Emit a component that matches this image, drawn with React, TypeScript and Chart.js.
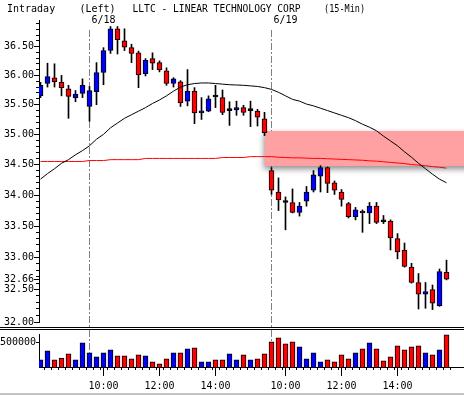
import React, { useEffect, useRef } from "react";
import { Chart, registerables } from "chart.js";
Chart.register(...registerables);

// 15-minute bars: 6/17 (last 7 bars), 6/18 (26 bars), 6/19 (26 bars)
const OPEN = [
  35.65, 35.86, 35.96, 35.88, 35.77, 35.62, 35.69,
  35.47, 35.72, 36.05, 36.43, 36.81, 36.60, 36.48, 36.39, 36.03, 36.29, 36.22, 36.08, 35.86,
  35.89, 35.56, 35.73, 35.36, 35.39, 35.635, 35.62, 35.40, 35.41, 35.45, 35.40, 35.39, 35.26,
  34.40, 34.05, 33.885, 33.88, 33.72, 33.90, 34.08, 34.31, 34.45, 34.20, 34.05, 33.86, 33.65,
  33.74, 33.71, 33.82, 33.575, 33.58, 33.30, 33.12, 32.85, 32.61, 32.43, 32.50, 32.25, 32.77,
];
const HIGH = [
  35.88, 36.21, 36.20, 36.00, 35.83, 35.74, 35.94,
  35.81, 36.22, 36.48, 36.85, 36.85, 36.81, 36.54, 36.42, 36.29, 36.39, 36.25, 36.13, 35.96,
  35.91, 36.10, 35.79, 35.62, 35.65, 35.83, 35.75, 35.55, 35.56, 35.49, 35.56, 35.42, 35.37,
  34.45, 34.28, 33.97, 34.10, 33.88, 34.14, 34.40, 34.48, 34.46, 34.23, 34.09, 33.88, 33.80,
  33.76, 33.88, 33.88, 33.67, 33.60, 33.38, 33.23, 32.91, 32.75, 32.61, 32.57, 32.82, 32.96,
];
const LOW = [
  35.62, 35.80, 35.80, 35.65, 35.27, 35.55, 35.62,
  35.22, 35.50, 35.84, 36.38, 36.37, 36.43, 36.22, 35.79, 35.99, 36.10, 36.06, 35.83, 35.80,
  35.47, 35.48, 35.18, 35.25, 35.38, 35.45, 35.33, 35.15, 35.32, 35.32, 35.13, 35.14, 34.98,
  34.01, 33.75, 33.44, 33.71, 33.66, 33.82, 34.05, 34.05, 34.04, 34.01, 33.82, 33.63, 33.60,
  33.40, 33.54, 33.54, 33.54, 33.12, 32.98, 32.85, 32.60, 32.20, 32.21, 32.19, 32.24, 32.65,
];
const CLOSE = [
  35.83, 35.98, 35.89, 35.79, 35.64, 35.68, 35.83,
  35.74, 36.05, 36.43, 36.81, 36.62, 36.49, 36.38, 36.01, 36.26, 36.21, 36.10, 35.86, 35.94,
  35.53, 35.73, 35.36, 35.39, 35.60, 35.63, 35.37, 35.405, 35.45, 35.37, 35.405, 35.29, 35.03,
  34.08, 33.92, 33.88, 33.72, 33.82, 34.05, 34.33, 34.45, 34.19, 34.08, 33.93, 33.65, 33.76,
  33.71, 33.82, 33.56, 33.57, 33.31, 33.09, 32.86, 32.61, 32.43, 32.47, 32.29, 32.78, 32.66,
];
const VOLUME = [
  148000, 331000, 148000, 183000, 270000, 148000, 494000,
  291000, 209000, 291000, 352000, 230000, 230000, 169000, 250000, 230000, 108000, 67000, 169000, 291000,
  291000, 372000, 392000, 108000, 108000, 148000, 148000, 270000, 148000, 250000, 148000, 169000, 270000,
  514000, 596000, 474000, 514000, 413000, 169000, 291000, 108000, 148000, 108000, 250000, 169000, 291000,
  372000, 494000, 372000, 128000, 209000, 433000, 352000, 413000, 433000, 291000, 250000, 352000, 657000,
];
const MA_SHORT = [
  34.26, 34.35, 34.43, 34.52, 34.58, 34.66, 34.73,
  34.81, 34.92, 35.00, 35.11, 35.19, 35.27, 35.33, 35.39, 35.45, 35.52, 35.58, 35.65, 35.73,
  35.80, 35.84, 35.86, 35.87, 35.87, 35.86, 35.85, 35.84, 35.835, 35.83, 35.82, 35.81, 35.79,
  35.76, 35.71, 35.65, 35.59, 35.56, 35.51, 35.48, 35.44, 35.40, 35.36, 35.32, 35.28, 35.23,
  35.17, 35.12, 35.06, 34.97, 34.89, 34.81, 34.71, 34.62, 34.52, 34.43, 34.34, 34.26, 34.20,
];
const MA_LONG = [
  34.55, 34.55, 34.55, 34.55, 34.55, 34.55, 34.55,
  34.565, 34.565, 34.565, 34.58, 34.58, 34.58, 34.58, 34.58, 34.60, 34.60, 34.60, 34.60, 34.60,
  34.60, 34.60, 34.60, 34.60, 34.60, 34.60, 34.615, 34.615, 34.615, 34.615, 34.63, 34.63, 34.63,
  34.63, 34.62, 34.615, 34.61, 34.61, 34.605, 34.60, 34.60, 34.595, 34.59, 34.585, 34.58, 34.575,
  34.57, 34.56, 34.555, 34.545, 34.535, 34.525, 34.515, 34.50, 34.49, 34.48, 34.465, 34.455, 34.44,
];
const PRICE_TICKS = [32.0, 32.5, 32.66, 33.0, 33.5, 34.0, 34.5, 35.0, 35.5, 36.0, 36.5];
const VOLUME_TICKS = [500000];
const TIME_TICK_INDEX = [9, 17, 25, 35, 43, 51];
const TIME_TICK_LABELS = ["10:00", "12:00", "14:00", "10:00", "12:00", "14:00"];
const DAY_START_INDEX = [7, 33];
const DAY_LABELS = ["6/18", "6/19"];
const GAP_BAND = { startIndex: 32.07, top: 35.05, bottom: 34.47 };
const TITLE_PARTS = ["Intraday", "(Left)", "LLTC - LINEAR TECHNOLOGY CORP", "(15-Min)"];

const UP = "#0000ff";
const DOWN = "#ff0000";
const FONT = '"DejaVu Sans Mono", monospace';
const X_MIN = -0.2143;
const X_MAX = 60.5;

export default function App() {
  const priceRef = useRef<HTMLCanvasElement>(null);
  const volRef = useRef<HTMLCanvasElement>(null);

  useEffect(() => {
    const idx = OPEN.map((_, i) => i);
    const bodyColor = idx.map((i) =>
      Math.abs(CLOSE[i] - OPEN[i]) < 0.0075 ? "#000000" : CLOSE[i] > OPEN[i] ? UP : DOWN
    );
    const volColor = idx.map((i) => (CLOSE[i] >= OPEN[i] ? UP : DOWN));

    const drawSeparators = (chart: any, yFrom: number, yTo: number) => {
      const ctx = chart.ctx;
      const xs = chart.scales.x;
      ctx.save();
      ctx.strokeStyle = "#808080";
      ctx.lineWidth = 1;
      ctx.setLineDash([7, 2, 2, 2]);
      DAY_START_INDEX.forEach((d) => {
        const x = Math.round(xs.getPixelForValue(d) - 0.5) + 0.5;
        ctx.beginPath();
        ctx.moveTo(x, yFrom);
        ctx.lineTo(x, yTo);
        ctx.stroke();
      });
      ctx.restore();
    };

    const pricePlugin = {
      id: "pricePlugin",
      beforeDatasetsDraw(chart: any) {
        const ctx = chart.ctx;
        const xs = chart.scales.x;
        const ys = chart.scales.y;
        drawSeparators(chart, 30, chart.height);
        const x0 = Math.round(xs.getPixelForValue(GAP_BAND.startIndex));
        const yT = Math.round(ys.getPixelForValue(GAP_BAND.top));
        const yB = Math.round(ys.getPixelForValue(GAP_BAND.bottom));
        ctx.save();
        ctx.shadowColor = "rgba(0,0,0,0.45)";
        ctx.shadowBlur = 6;
        ctx.shadowOffsetY = 3;
        ctx.shadowOffsetX = -1;
        ctx.fillStyle = "rgb(255,160,163)";
        ctx.fillRect(x0, yT, chart.width - x0 + 10, yB - yT);
        ctx.restore();
      },
      afterDraw(chart: any) {
        const ctx = chart.ctx;
        const xs = chart.scales.x;
        const ys = chart.scales.y;
        const ca = chart.chartArea;
        ctx.save();
        ctx.fillStyle = "#000";
        for (let k = 320; k <= 369; k++) {
          const v = k / 10;
          if (PRICE_TICKS.some((t) => Math.abs(t - v) < 1e-6)) continue;
          const y = Math.round(ys.getPixelForValue(v) - 0.5);
          if (y < ca.top || y > ca.bottom) continue;
          ctx.fillRect(ca.left - 3, y, 3, 1);
        }
        ctx.font = "10px " + FONT;
        ctx.textBaseline = "alphabetic";
        ctx.textAlign = "left";
        ctx.fillText(TITLE_PARTS[0], 7, 12);
        ctx.fillText(TITLE_PARTS[1], 79.5, 12);
        ctx.fillText(TITLE_PARTS[2], 132.5, 12, 168);
        ctx.fillText(TITLE_PARTS[3], 324, 12, 41);
        ctx.textAlign = "center";
        DAY_START_INDEX.forEach((d, i) => {
          ctx.fillText(DAY_LABELS[i], xs.getPixelForValue(d + 2), 23);
        });
        ctx.fillRect(0, 327, chart.width, 1);
        ctx.fillRect(0, 329, chart.width, 1);
        ctx.restore();
      },
    };

    const volPlugin = {
      id: "volPlugin",
      beforeDatasetsDraw(chart: any) {
        drawSeparators(chart, 0, chart.chartArea.bottom);
      },
      afterDraw(chart: any) {
        const ctx = chart.ctx;
        const xs = chart.scales.x;
        const ca = chart.chartArea;
        ctx.save();
        ctx.fillStyle = "#000";
        idx.forEach((i) => {
          const x = Math.round(xs.getPixelForValue(i + 0.5) - 0.5);
          if (x > ca.left && x < ca.right) ctx.fillRect(x, ca.bottom, 1, 3);
        });
        ctx.fillStyle = "#c4c4c4";
        ctx.fillRect(0, chart.height - 2, chart.width, 2);
        ctx.restore();
      },
    };

    const tickFont = { family: FONT, size: 10 };

    const priceChart = new Chart(priceRef.current as HTMLCanvasElement, {
      type: "bar",
      data: {
        datasets: [
          {
            type: "bar",
            data: idx.map((i) => ({ x: i, y: [LOW[i], HIGH[i]] })) as any,
            backgroundColor: "#000",
            borderWidth: 0,
            barThickness: 1,
            grouped: false,
            order: 4,
          } as any,
          {
            type: "bar",
            data: idx.map((i) => ({ x: i, y: [OPEN[i], CLOSE[i]] })) as any,
            backgroundColor: bodyColor,
            borderColor: "#000",
            borderWidth: 1,
            borderSkipped: false,
            barThickness: 5,
            minBarLength: 2,
            grouped: false,
            order: 3,
          } as any,
          {
            type: "line",
            data: idx.map((i) => ({ x: i, y: MA_LONG[i] })) as any,
            borderColor: "#ff0000",
            borderWidth: 1,
            pointRadius: 0,
            tension: 0,
            order: 2,
          } as any,
          {
            type: "line",
            data: idx.map((i) => ({ x: i, y: MA_SHORT[i] })) as any,
            borderColor: "#000000",
            borderWidth: 1,
            pointRadius: 0,
            tension: 0,
            order: 1,
          } as any,
        ],
      },
      options: {
        animation: false,
        responsive: false,
        maintainAspectRatio: false,
        layout: { padding: { top: 20, bottom: 8, left: 0, right: 0 } },
        plugins: { legend: { display: false }, tooltip: { enabled: false }, title: { display: false } },
        scales: {
          x: { type: "linear", min: X_MIN, max: X_MAX, display: false, offset: false, grid: { offset: false } },
          y: {
            type: "logarithmic",
            position: "left",
            min: 32,
            max: 36.965,
            z: 1,
            afterBuildTicks: (s: any) => {
              s.ticks = PRICE_TICKS.map((v) => ({ value: v }));
            },
            afterFit: (s: any) => {
              s.width = 39;
              s.paddingTop = 0;
              s.paddingBottom = 0;
            },
            ticks: {
              callback: (v: any) => Number(v).toFixed(2),
              color: "#000",
              font: tickFont,
              padding: 0,
              autoSkip: false,
            },
            grid: { drawOnChartArea: false, drawTicks: true, tickLength: 5, tickColor: "#000" },
            border: { display: true, color: "#000", width: 1 },
          } as any,
        },
      },
      plugins: [pricePlugin],
    });

    const volChart = new Chart(volRef.current as HTMLCanvasElement, {
      type: "bar",
      data: {
        datasets: [
          {
            type: "bar",
            data: idx.map((i) => ({ x: i, y: VOLUME[i] })) as any,
            backgroundColor: volColor,
            borderColor: "#000",
            borderWidth: 1,
            barThickness: 5,
            grouped: false,
          } as any,
        ],
      },
      options: {
        animation: false,
        responsive: false,
        maintainAspectRatio: false,
        layout: { padding: { top: 4, bottom: 0, left: 0, right: 0 } },
        plugins: { legend: { display: false }, tooltip: { enabled: false } },
        scales: {
          x: {
            type: "linear",
            min: X_MIN,
            max: X_MAX,
            position: "bottom",
            offset: false,
            z: 1,
            afterBuildTicks: (s: any) => {
              s.ticks = TIME_TICK_INDEX.map((v) => ({ value: v }));
            },
            afterFit: (s: any) => {
              s.height = 28;
              s.paddingLeft = 0;
              s.paddingRight = 0;
            },
            ticks: {
              callback: (_v: any, i: number) => TIME_TICK_LABELS[i],
              color: "#000",
              font: tickFont,
              padding: 4,
              maxRotation: 0,
              autoSkip: false,
            },
            grid: { drawOnChartArea: false, drawTicks: true, tickLength: 9, tickColor: "#000", offset: false },
            border: { display: true, color: "#000", width: 1 },
          } as any,
          y: {
            position: "left",
            min: 0,
            max: 675000,
            z: 1,
            afterBuildTicks: (s: any) => {
              s.ticks = VOLUME_TICKS.map((v) => ({ value: v }));
            },
            afterFit: (s: any) => {
              s.width = 39;
              s.paddingTop = 0;
              s.paddingBottom = 0;
            },
            ticks: {
              callback: (v: any) => String(v),
              color: "#000",
              font: tickFont,
              padding: 0,
              autoSkip: false,
            },
            grid: { drawOnChartArea: false, drawTicks: true, tickLength: 3, tickColor: "#000" },
            border: { display: true, color: "#000", width: 1 },
          } as any,
        },
      },
      plugins: [volPlugin],
    });

    return () => {
      priceChart.destroy();
      volChart.destroy();
    };
  }, []);

  return (
    <div style={{ position: "fixed", left: 0, top: 0, width: 464, height: 395, background: "#fff", overflow: "hidden" }}>
      <canvas ref={priceRef} width={464} height={330} style={{ position: "absolute", left: 0, top: 0 }} />
      <canvas ref={volRef} width={464} height={65} style={{ position: "absolute", left: 0, top: 330 }} />
    </div>
  );
}
